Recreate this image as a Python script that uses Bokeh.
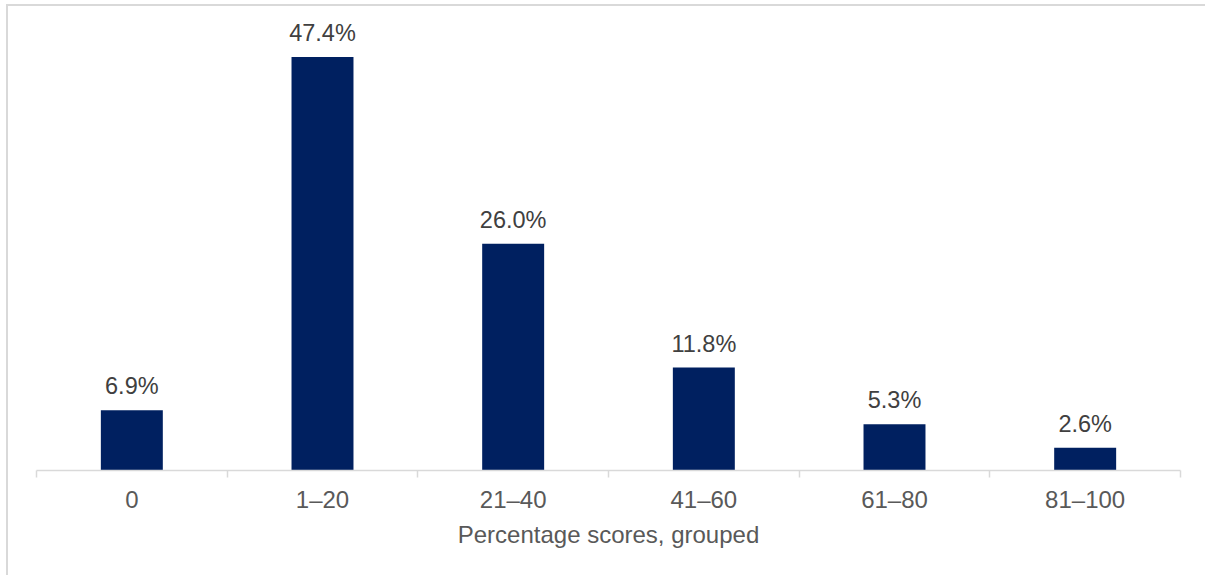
from bokeh.plotting import figure
from bokeh.models import ColumnDataSource, Range1d, FixedTicker
from bokeh.core.properties import value
from bokeh.embed import file_html
from bokeh.resources import INLINE

# Share of respondents in each percentage-score band
categories = ["0", "1\u201320", "21\u201340", "41\u201360", "61\u201380", "81\u2013100"]
shares = [6.9, 47.4, 26.0, 11.8, 5.3, 2.6]
x_title = "Percentage scores, grouped"

FONT = "Liberation Sans"
BAR = "#002060"
AXIS_GREY = "#d9d9d9"

centers = [i + 0.5 for i in range(len(categories))]
source = ColumnDataSource(dict(
    x=centers,
    top=shares,
    label=[f"{v:.1f}%" for v in shares],
))

# the chart area runs on past the right edge of the page, as in the source layout
p = figure(
    width=1215, height=571,
    x_range=Range1d(0, len(categories)),
    y_range=Range1d(0, 53.2),
    output_backend="svg", toolbar_location=None,
    min_border_left=28, min_border_right=43,
    min_border_top=0, min_border_bottom=107,
)
p.margin = (4, 0, 0, 6)
p.styles = {
    "border-left": f"2px solid {AXIS_GREY}",
    "border-top": f"2px solid {AXIS_GREY}",
}
p.outline_line_color = None
p.background_fill_color = "white"
p.border_fill_color = "white"
p.grid.visible = False
p.yaxis.visible = False

p.vbar(x="x", top="top", width=0.325, source=source,
       fill_color=BAR, line_color=None)

p.text(x="x", y="top", text="label", source=source,
       text_align="center", text_baseline="alphabetic", y_offset=-24,
       text_font=value(FONT), text_font_size="23.5px", text_color="#404040")

# category labels sit at the centres, tick marks at the band boundaries
xa = p.xaxis[0]
xa.ticker = FixedTicker(ticks=centers,
                        minor_ticks=list(range(len(categories) + 1)))
xa.major_label_overrides = {c: lab for c, lab in zip(centers, categories)}
xa.major_tick_line_color = None
xa.major_tick_out = 0
xa.major_tick_in = 0
xa.minor_tick_line_color = AXIS_GREY
xa.minor_tick_line_width = 1.5
xa.minor_tick_out = 7
xa.minor_tick_in = 0
xa.axis_line_color = AXIS_GREY
xa.axis_line_width = 1.5
xa.major_label_standoff = 8
xa.major_label_text_font = FONT
xa.major_label_text_font_size = "24px"
xa.major_label_text_color = "#595959"
xa.axis_label = x_title
xa.axis_label_standoff = 5
xa.axis_label_text_font = FONT
xa.axis_label_text_font_size = "24px"
xa.axis_label_text_font_style = "normal"
xa.axis_label_text_color = "#595959"

open("out.html", "w").write(file_html(p, INLINE))
